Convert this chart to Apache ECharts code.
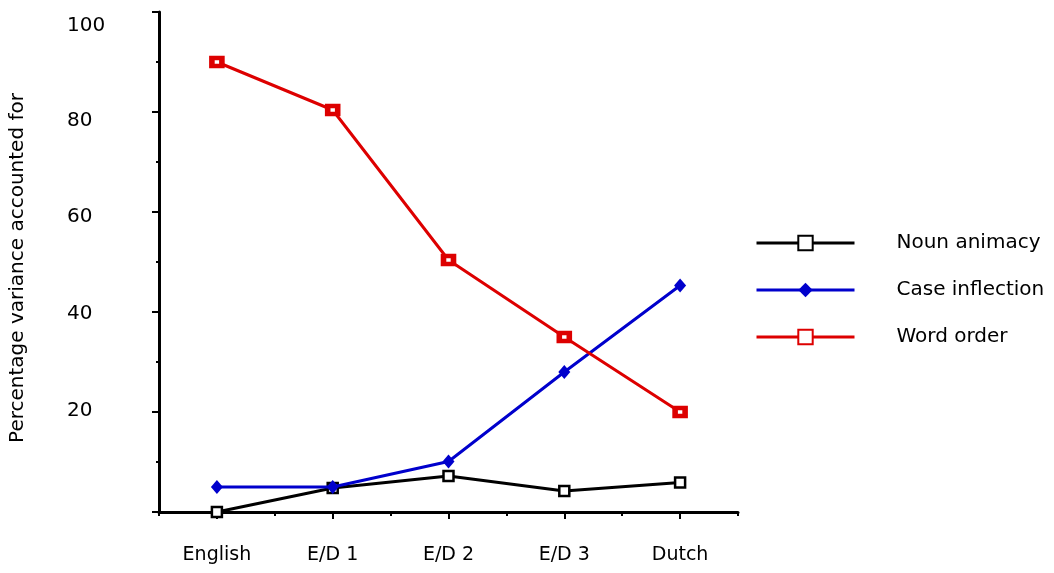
<!DOCTYPE html>
<html><head><meta charset="utf-8">
<script src="https://cdn.jsdelivr.net/npm/echarts@6/dist/echarts.min.js"></script>
<style>html,body{margin:0;padding:0;background:#fff}#c{width:1054px;height:573px}</style>
</head><body><div id="c"></div>
<script>
var categories = ['English', 'E/D 1', 'E/D 2', 'E/D 3', 'Dutch'];
var nounAnimacy = [0, 4.8, 7.2, 4.2, 5.9];
var caseInflection = [5, 5, 10.1, 28, 45.3];
var wordOrder = [90, 80.4, 50.4, 35, 20];
var yTicks = [0, 20, 40, 60, 80, 100];

var FONT = 'DejaVu Sans';
var labelShift = {100: 'd14', 80: 'd9', 60: 'd5', 40: 'd2', 20: 'u1'};
var chart = echarts.init(document.getElementById('c'));
chart.setOption({
  animation: false,
  grid: {left: 158, right: 316, top: 12, bottom: 61},
  legend: {
    orient: 'vertical', left: 750, top: 228, itemWidth: 98, itemHeight: 18, itemGap: 27,
    lineStyle: {width: 3},
    textStyle: {fontFamily: FONT, fontSize: 20, color: '#000', padding: [0, 0, 0, 37]},
    data: ['Noun animacy', 'Case inflection', 'Word order']
  },
  xAxis: [{
    type: 'category', data: categories, position: 'bottom',
    axisLine: {show: true, lineStyle: {color: '#000', width: 3}},
    axisTick: {show: true, alignWithLabel: true, length: 7, lineStyle: {color: '#000', width: 2}},
    axisLabel: {fontFamily: FONT, fontSize: 19, color: '#000', margin: 34}
  }, {
    type: 'category', data: categories, position: 'bottom',
    axisLine: {show: false},
    axisTick: {show: true, length: 4, lineStyle: {color: '#000', width: 2}},
    axisLabel: {show: false}
  }],
  yAxis: {
    type: 'value', min: 0, max: 100, interval: 20,
    name: 'Percentage variance accounted for', nameLocation: 'middle', nameGap: 131,
    nameTextStyle: {fontFamily: FONT, fontSize: 20, color: '#000', padding: [0, 12, 0, 0]},
    axisLine: {show: true, lineStyle: {color: '#000', width: 3}},
    axisTick: {show: true, length: 7, lineStyle: {color: '#000', width: 2}},
    minorTick: {show: true, splitNumber: 2, length: 3, lineStyle: {color: '#000', width: 2}},
    splitLine: {show: false},
    axisLabel: {fontFamily: FONT, fontSize: 20, color: '#000', margin: 92, align: 'left',
      formatter: function (v) { return v === 0 ? '' : '{' + labelShift[v] + '|' + v + '}'; },
      rich: {
        d14: {fontFamily: FONT, fontSize: 20, color: '#000', padding: [28, 0, 0, 0]},
        d9: {fontFamily: FONT, fontSize: 20, color: '#000', padding: [18, 0, 0, 0]},
        d5: {fontFamily: FONT, fontSize: 20, color: '#000', padding: [10, 0, 0, 0]},
        d2: {fontFamily: FONT, fontSize: 20, color: '#000', padding: [4, 0, 0, 0]},
        u1: {fontFamily: FONT, fontSize: 20, color: '#000', padding: [0, 0, 2, 0]}
      }}
  },
  series: [{
    name: 'Noun animacy', type: 'line', data: nounAnimacy,
    symbol: 'rect', symbolSize: 10,
    lineStyle: {color: '#000', width: 3},
    itemStyle: {color: '#fff', borderColor: '#000', borderWidth: 2.5},
    z: 3
  }, {
    name: 'Case inflection', type: 'line', data: caseInflection,
    symbol: 'diamond', symbolSize: [12, 14],
    lineStyle: {color: '#0000cc', width: 3},
    itemStyle: {color: '#0000cc', borderColor: '#0000cc', borderWidth: 0},
    z: 4
  }, {
    name: 'Word order', type: 'line', data: wordOrder,
    symbol: 'rect', symbolSize: [10, 8],
    lineStyle: {color: '#dd0000', width: 3},
    itemStyle: {color: '#fff', borderColor: '#dd0000', borderWidth: 5},
    z: 5
  }]
});
</script></body></html>
